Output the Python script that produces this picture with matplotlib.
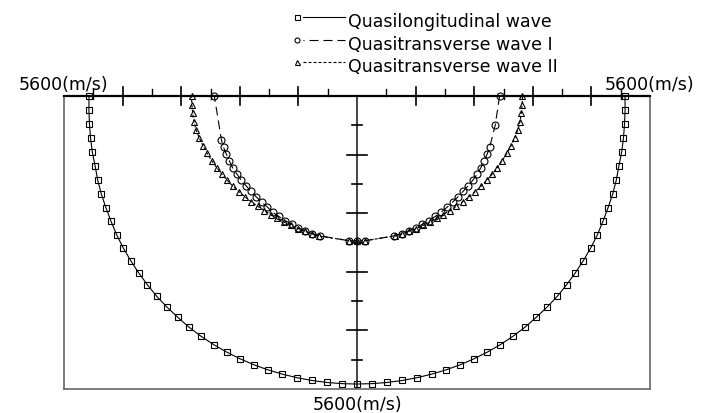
import numpy as np
import matplotlib
matplotlib.use('Agg')
import matplotlib.pyplot as plt
from matplotlib.lines import Line2D

# group angle (deg, 0 = right horizontal, 90 = straight down) and velocity (m/s)
# quasi-longitudinal wave, read on one half (0..90 deg), the other half is its mirror
qp_angle_half = np.arange(0, 91, 3)
qp_vel_half = [5122, 5131, 5141, 5156, 5171, 5181, 5210, 5234, 5252, 5276, 5305,
               5328, 5349, 5370, 5391, 5414, 5429, 5443, 5462, 5475, 5485, 5492,
               5498, 5502, 5504, 5504, 5505, 5505, 5505, 5505, 5505]

# quasi-transverse wave II (triangles)
sh_angle_half = [0, 3, 6, 9, 12, 15, 18, 21, 24, 27, 30, 33, 36, 39, 42, 45, 48,
                 51, 54, 57, 60, 63, 66, 69, 72, 75, 87, 90]
sh_vel_half = [3163, 3161, 3157, 3154, 3142, 3119, 3092, 3066, 3039, 3012, 2985,
               2959, 2932, 2905, 2880, 2857, 2836, 2817, 2802, 2790, 2783, 2777,
               2773, 2771, 2771, 2771, 2771, 2771]

# quasi-transverse wave I (circles), markers are not symmetric near the top
sv_angle = [0, 12, 21, 24, 27, 30, 33, 36, 39, 42, 45, 48, 51, 54, 57, 60, 63,
            66, 69, 72, 75, 87, 90, 93, 105, 108, 111, 114, 117, 120, 123, 126,
            129, 132, 135, 138, 141, 144, 147, 150, 153, 156, 159, 162, 180]
sv_vel = [2725, 2700, 2718, 2724, 2730, 2735, 2740, 2738, 2732, 2727, 2727, 2730,
          2735, 2740, 2745, 2748, 2752, 2756, 2760, 2764, 2767, 2771, 2771, 2771,
          2767, 2764, 2760, 2756, 2752, 2748, 2745, 2744, 2727, 2727, 2725, 2727,
          2727, 2734, 2738, 2745, 2737, 2733, 2733, 2724, 2727]

vmax = 5600
legend_labels = ['Quasilongitudinal wave', 'Quasitransverse wave I',
                 'Quasitransverse wave II']


def mirror(angles, vals):
    a = list(angles) + [180 - x for x in angles[::-1] if x != 90]
    v = list(vals) + [y for x, y in zip(angles[::-1], vals[::-1]) if x != 90]
    return np.array(a, float), np.array(v, float)


def to_xy(a, v):
    t = np.radians(a)
    return v * np.cos(t), -v * np.sin(t)


qp_a, qp_v = mirror(qp_angle_half, qp_vel_half)
sh_a, sh_v = mirror(sh_angle_half, sh_vel_half)
sv_a, sv_v = np.array(sv_angle, float), np.array(sv_vel, float)

W, H = 702, 414
fig = plt.figure(figsize=(W / 100, H / 100), dpi=100)
ax = fig.add_axes([64 / W, 1 - 390 / H, 586 / W, 293 / H])
ax.set_xlim(-vmax, vmax)
ax.set_ylim(-vmax, 0)
ax.set_xticks([])
ax.set_yticks([])
for s in ['left', 'right', 'bottom']:
    ax.spines[s].set_color('#666666')
    ax.spines[s].set_linewidth(1.2)
ax.spines['top'].set_color('black')
ax.spines['top'].set_linewidth(1.6)

px = vmax / 293.0  # data units per pixel

# vertical axis
ax.plot([0, 0], [0, -vmax], color='#444444', lw=1.4, zorder=1)

# ticks every 560 m/s
step = vmax / 10
for k in range(1, 10):
    for sgn in (-1, 1):
        x = sgn * k * step
        if k % 2 == 0:
            ax.plot([x, x], [-9 * px, 9 * px], color='black', lw=1.2, clip_on=False)
        elif k in (5, 9):
            ax.plot([x, x], [-3 * px, 7 * px], color='black', lw=1.0, clip_on=False)
        else:
            ax.plot([x, x], [0, 7 * px], color='black', lw=1.0, clip_on=False)
    y = -k * step
    L = 10 if k % 2 == 0 else 5
    ax.plot([-L * px, L * px], [y, y], color='black', lw=1.2)

mk = dict(markerfacecolor='none', markeredgecolor='black', markeredgewidth=0.8,
          clip_on=False)
x, y = to_xy(qp_a, qp_v)
ax.plot(x, y, '-', color='black', lw=0.8, marker='s', markersize=4.3, **mk)
x, y = to_xy(sv_a, sv_v)
ax.plot(x, y, color='black', lw=0.8, ls=(0, (8, 4.5)), marker='o', markersize=5, **mk)
x, y = to_xy(sh_a, sh_v)
ax.plot(x, y, color='black', lw=0.8, ls=(0, (2.7, 1.8)), marker='^', markersize=4.3, **mk)

# axis end labels
fs = 12.5
fig.text(64 / W, 1 - 90 / H, '5600(m/s)', ha='center', va='baseline', fontsize=fs)
fig.text(650 / W, 1 - 90 / H, '5600(m/s)', ha='center', va='baseline', fontsize=fs)
fig.text(357 / W, 1 - 410 / H, '5600(m/s)', ha='center', va='baseline', fontsize=fs)

# legend drawn by hand
rows = [18, 41, 63]
styles = [('s', '-'), ('o', (7.2, (8.1, 4.5))), ('^', (0, (2.7, 1.8)))]
for r, (m, ls), lab in zip(rows, styles, legend_labels):
    yf = 1 - r / H
    fig.add_artist(Line2D([297 / W], [yf], marker=m, markersize=3.6,
                          markerfacecolor='none', markeredgecolor='black',
                          markeredgewidth=0.8, transform=fig.transFigure))
    fig.add_artist(Line2D([303 / W, 345 / W], [yf, yf], color='black', lw=0.8,
                          ls=ls, transform=fig.transFigure))
    fig.text(348 / W, 1 - (r + 9) / H, lab, ha='left', va='baseline', fontsize=fs)

fig.savefig('out.png', dpi=100)
